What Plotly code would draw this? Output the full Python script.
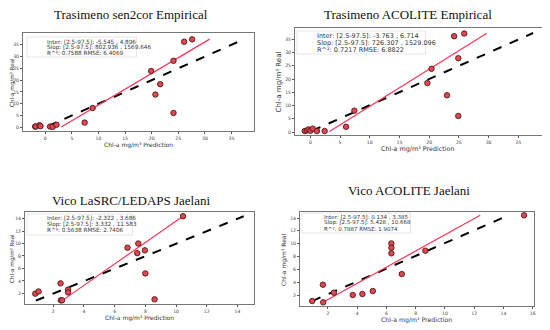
import plotly.graph_objects as go

# ---------------- data ----------------
titles = ["Trasimeno sen2cor Empirical", "Trasimeno ACOLITE Empirical",
          "Vico LaSRC/LEDAPS Jaelani", "Vico ACOLITE Jaelani"]

stats = [
    ["Inter: [2.5-97.5]: -5.545 , 4.896", "Slop: [2.5-97.5]: 802.936 , 1569.646", "R^²: 0.7588 RMSE: 6.4069"],
    ["Inter: [2.5-97.5]: -3.763 , 6.714", "Slop: [2.5-97.5]: 726.307 , 1529.096", "R^²: 0.7217 RMSE: 6.8822"],
    ["Inter: [2.5-97.5]: -2.322 , 3.686", "Slop: [2.5-97.5]: 3.332 , 11.583", "R^²: 0.5638 RMSE: 2.7406"],
    ["Inter: [2.5-97.5]: 0.134 , 3.385", "Slop: [2.5-97.5]: 5.428 , 10.668", "R^²: 0.7887 RMSE: 1.9074"],
]

pred1 = [-1.9, -1.8, -1.1, -0.9, 0.9, 1.4, 2.1, 7.4, 8.9, 19.9, 20.7, 21.6, 24.1, 24.1, 26.1, 27.6]
real1 = [0.3, 0.4, 0.9, 0.5, 0.3, 0.2, 1.1, 2.0, 8.2, 23.9, 13.9, 18.3, 6.1, 28.2, 36.3, 37.3]
fit1_x = [3.0, 30.9]
fit1_y = [0.14, 37.4]
one1 = [0.5, 36.9]

pred2 = [-0.95, -0.6, -0.3, 0.0, 0.4, 1.1, 2.4, 6.0, 7.4, 19.7, 20.4, 23.0, 24.2, 24.9, 24.9, 25.9]
real2 = [0.4, 0.6, 1.0, 0.5, 1.3, 0.4, 0.4, 2.0, 8.1, 18.5, 23.9, 13.9, 36.2, 27.9, 6.1, 37.2]
fit2_x = [3.2, 29.7]
fit2_y = [0.25, 37.3]
one2_x = [0.3, 37.5]
one2_y = [0.5, 37.4]

pred3 = [0.83, 1.05, 2.48, 2.5, 2.58, 2.97, 2.97, 6.84, 7.54, 7.47, 7.97, 8.0, 8.6, 10.45]
real3 = [1.95, 2.3, 3.6, 0.88, 0.88, 2.6, 2.15, 9.33, 10.0, 8.45, 8.9, 5.2, 1.04, 14.37]
fit3_x = [2.58, 10.45]
fit3_y = [0.83, 14.37]
one3_x = [0.87, 14.4]
one3_y = [0.83, 14.37]

pred4 = [0.93, 1.66, 1.68, 2.41, 3.7, 4.36, 5.07, 6.34, 6.34, 6.34, 7.05, 8.66, 15.41]
real4 = [1.06, 3.61, 0.86, 2.36, 2.0, 2.16, 2.62, 10.05, 9.38, 8.5, 5.27, 8.91, 14.42]
fit4_x = [1.73, 12.41]
fit4_y = [0.96, 14.42]
one4_x = [0.93, 14.34]
one4_y = [1.06, 14.42]

xlabel = "Chl-a mg/m³ Prediction"
ylabel = "Chl-a mg/m³ Real"

# ---------------- layout geometry (reference pixel coords) ----------------
OFF = 8                      # page body margin offset
W, H = 550 - OFF, 330 - OFF  # figure size


def fx(p):
    return (p - OFF) / W


def fy(p):
    return 1 - (p - OFF) / H


boxes = [  # (x0, x1, ytop, ybottom)
    (23, 255, 33, 131),
    (296, 544, 28, 135),
    (25, 255, 212, 304),
    (301, 536, 212, 306),
]
xranges = [[-4.2, 39.25], [-2.6, 39.0], [0.16, 15.08], [0.09, 16.09]]
yranges = [[-1.56, 40.0], [-1.1, 39.3], [0.29, 15.05], [0.29, 14.94]]
xticks = [[0, 5, 10, 15, 20, 25, 30, 35], [0, 5, 10, 15, 20, 25, 30, 35],
          [2, 4, 6, 8, 10, 12, 14], [2, 4, 6, 8, 10, 12, 14, 16]]
yticks = [[0, 5, 10, 15, 20, 25, 30, 35], [0, 5, 10, 15, 20, 25, 30, 35],
          [2, 4, 6, 8, 10, 12, 14], [2, 4, 6, 8, 10, 12, 14]]
title_pos = [(131, 14), (409, 14), (131, 200), (410, 190)]
title_size = [13, 13, 13, 13]
stat_rect = [(27, 37, 137, 57), (298, 31, 427, 54), (27, 214, 133, 235), (303, 213, 412, 233)]
stat_textx = [45, 316, 45, 323]
stat_lines = [(42.3, 47.8, 53.3), (36, 43.2, 50), (218.3, 224.3, 230.3), (217.3, 222.8, 228.5)]
stat_size = [5.7, 6.5, 5.7, 5.5]
xlab_size = [6.0, 6.4, 6.0, 6.2]
ylab_size = [5.6, 7.0, 5.6, 6.0]
ylab_x = [12, 280, 12, 285]

fig = go.Figure()

datasets = [
    (pred1, real1, fit1_x, fit1_y, one1, one1),
    (pred2, real2, fit2_x, fit2_y, one2_x, one2_y),
    (pred3, real3, fit3_x, fit3_y, one3_x, one3_y),
    (pred4, real4, fit4_x, fit4_y, one4_x, one4_y),
]

layout = dict(
    width=W, height=H, margin=dict(l=0, r=0, t=0, b=0),
    paper_bgcolor="white", plot_bgcolor="white", showlegend=False,
)
annotations = []
shapes = []
for i, (px, py, lx, ly, ox, oy) in enumerate(datasets):
    n = "" if i == 0 else str(i + 1)
    xa, ya = "x" + n, "y" + n
    fig.add_trace(go.Scatter(x=ox, y=oy, mode="lines", xaxis=xa, yaxis=ya,
                             line=dict(color="black", width=2, dash="dash")))
    fig.add_trace(go.Scatter(x=lx, y=ly, mode="lines", xaxis=xa, yaxis=ya,
                             line=dict(color="#ff3355", width=1.2)))
    fig.add_trace(go.Scatter(x=px, y=py, mode="markers", xaxis=xa, yaxis=ya,
                             marker=dict(size=5.5, color="#e2464f",
                                         line=dict(color="#3a1010", width=0.8))))
    x0, x1, yt, yb = boxes[i]
    axcommon = dict(showgrid=False, zeroline=False, showline=True, mirror=True,
                    linecolor="#777777", linewidth=1, ticks="outside", ticklen=2,
                    tickcolor="#555555", ticklabelstandoff=0,
                    tickfont=dict(size=4.6, color="#444444", family="DejaVu Sans"))
    layout["xaxis" + n] = dict(axcommon, domain=[fx(x0), fx(x1)], range=xranges[i],
                               tickvals=xticks[i], anchor=ya)
    layout["yaxis" + n] = dict(axcommon, domain=[fy(yb), fy(yt)], range=yranges[i],
                               tickvals=yticks[i], anchor=xa)
    # title
    tx, ty = title_pos[i]
    annotations.append(dict(text=titles[i], x=fx(tx), y=fy(ty),
                            xref="paper", yref="paper", showarrow=False,
                            xanchor="center", yanchor="middle",
                            font=dict(family="Liberation Serif", size=title_size[i],
                                      color="#111111")))
    # axis labels
    annotations.append(dict(text=xlabel, x=fx((x0 + x1) / 2), y=fy(yb + 14),
                            xref="paper", yref="paper", showarrow=False,
                            xanchor="center", yanchor="middle",
                            font=dict(family="DejaVu Sans", size=xlab_size[i], color="#333333")))
    annotations.append(dict(text=ylabel, x=fx(ylab_x[i]), y=fy((yt + yb) / 2),
                            xref="paper", yref="paper", showarrow=False, textangle=-90,
                            xanchor="center", yanchor="middle",
                            font=dict(family="DejaVu Sans", size=ylab_size[i], color="#333333")))
    # stats box
    rx0, ry0, rx1, ry1 = stat_rect[i]
    shapes.append(dict(type="rect", xref="paper", yref="paper",
                       x0=fx(rx0), x1=fx(rx1), y0=fy(ry1), y1=fy(ry0),
                       line=dict(color="#dddddd", width=0.7), fillcolor="white", layer="above"))
    for line_txt, ly_px in zip(stats[i], stat_lines[i]):
        annotations.append(dict(text=line_txt, x=fx(stat_textx[i]), y=fy(ly_px),
                                xref="paper", yref="paper", showarrow=False,
                                xanchor="left", yanchor="middle", align="left",
                                font=dict(family="DejaVu Sans", size=stat_size[i],
                                          color="#333333")))

layout["annotations"] = annotations
layout["shapes"] = shapes
fig.update_layout(**layout)
fig.write_html("out.html")
